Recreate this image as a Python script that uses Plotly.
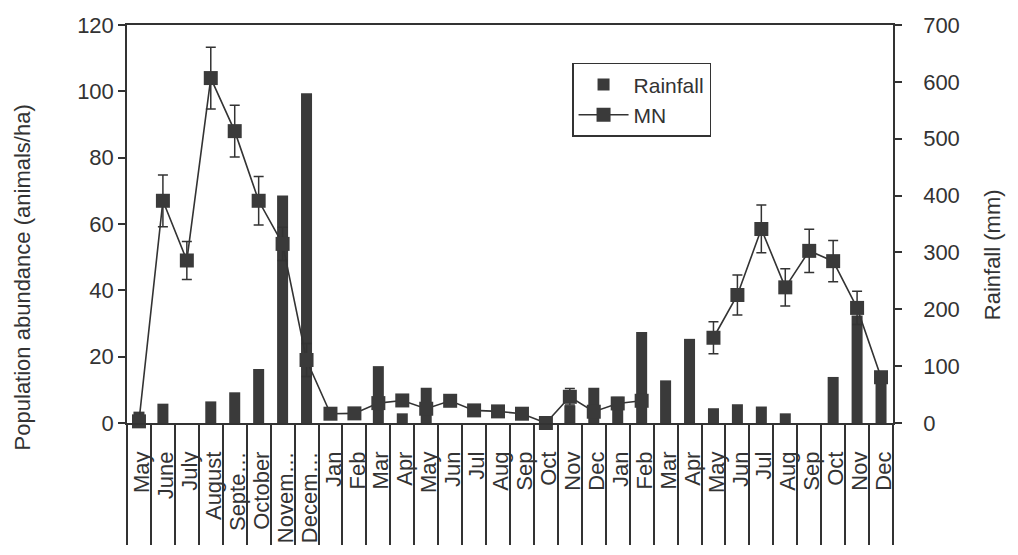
import plotly.graph_objects as go

months = ["May", "June", "July", "August", "Septe…", "October", "Novem…", "Decem…",
          "Jan", "Feb", "Mar", "Apr", "May", "Jun", "Jul", "Aug", "Sep", "Oct", "Nov", "Dec",
          "Jan", "Feb", "Mar", "Apr", "May", "Jun", "Jul", "Aug", "Sep", "Oct", "Nov", "Dec"]
rainfall = [20, 34, 0, 38, 54, 95, 400, 580, 0, 0, 100, 17, 62, 0, 0, 0, 0, 0, 31, 62,
            46, 160, 75, 148, 26, 33, 29, 17, 0, 81, 189, 90]
mn = [0.5, 67, 49, 104, 88, 67, 54, 19, 2.8, 2.9, 6, 6.8, 4.3, 6.7, 3.8, 3.5, 2.8, 0, 7.9, 3.4,
      5.9, 6.7, None, None, 25.7, 38.6, 58.5, 40.9, 51.9, 48.8, 34.7, 13.8]
mn_err = [0, 7.8, 5.7, 9.3, 7.8, 7.3, 5, 5, 0, 0, 0, 0, 0, 0, 0, 0, 0, 0, 2.5, 0,
          0, 0, 0, 0, 4.8, 6, 7.2, 5.6, 6.5, 6.2, 5, 0]
left_ticks = [0, 20, 40, 60, 80, 100, 120]
right_ticks = [0, 100, 200, 300, 400, 500, 600, 700]

x = list(range(len(months)))
INK = "#333333"
FONT = "Liberation Sans, Arial, sans-serif"

fig = go.Figure()
fig.add_trace(go.Bar(
    x=x, y=rainfall, name="Rainfall", width=0.46,
    marker=dict(color="#3a3a3a", line=dict(width=0)),
    yaxis="y",
))
fig.add_trace(go.Scatter(
    x=x, y=mn, name="MN", mode="lines+markers", yaxis="y2",
    line=dict(color=INK, width=1.6),
    marker=dict(symbol="square", size=14, color="#3a3a3a"),
    error_y=dict(type="data", array=mn_err, visible=True, color=INK, thickness=1.5, width=5),
    cliponaxis=False, connectgaps=False,
))

fig.update_layout(
    width=1018, height=555,
    margin=dict(l=127, r=125, t=25, b=126),
    paper_bgcolor="white", plot_bgcolor="white",
    font=dict(family=FONT, size=22, color=INK),
    showlegend=True,
    legend=dict(
        x=0.581, y=0.905, xanchor="left", yanchor="top",
        bordercolor=INK, borderwidth=1.5, bgcolor="white",
        font=dict(size=21, color=INK), itemwidth=50,
        tracegroupgap=0,
    ),
    xaxis=dict(
        range=[-0.5, len(months) - 0.5],
        tickmode="array", tickvals=x, ticktext=months,
        tickangle=-90, ticks="", ticklabelstandoff=18, ticklabelshift=3,
        tickfont=dict(size=22, color=INK),
        showline=True, linecolor=INK, linewidth=1.5, mirror=True,
        showgrid=False, zeroline=False,
        minor=dict(ticks="outside", tick0=-0.5, dtick=1, ticklen=120,
                   tickwidth=1.5, tickcolor=INK, showgrid=False),
    ),
    yaxis=dict(
        side="right", range=[0, 700], tickvals=right_ticks,
        ticks="outside", ticklen=7, tickwidth=1.5, tickcolor=INK,
        ticklabelstandoff=17,
        showline=True, linecolor=INK, linewidth=1.5,
        showgrid=False, zeroline=False,
        tickfont=dict(size=22, color=INK),
    ),
    yaxis2=dict(
        side="left", overlaying="y", range=[0, 120], tickvals=left_ticks,
        ticks="outside", ticklen=7, tickwidth=1.5, tickcolor=INK,
        showline=True, linecolor=INK, linewidth=1.5,
        showgrid=False, zeroline=False,
        tickfont=dict(size=22, color=INK),
    ),
    annotations=[
        dict(text="Population abundance (animals/ha)", textangle=-90,
             xref="paper", yref="paper", x=-0.137, y=0.366, xanchor="center", yanchor="middle",
             showarrow=False, font=dict(size=22, color=INK)),
        dict(text="Rainfall (mm)", textangle=-90,
             xref="paper", yref="paper", x=1.13, y=0.423, xanchor="center", yanchor="middle",
             showarrow=False, font=dict(size=22, color=INK)),
    ],
)

fig.write_html("out.html")
